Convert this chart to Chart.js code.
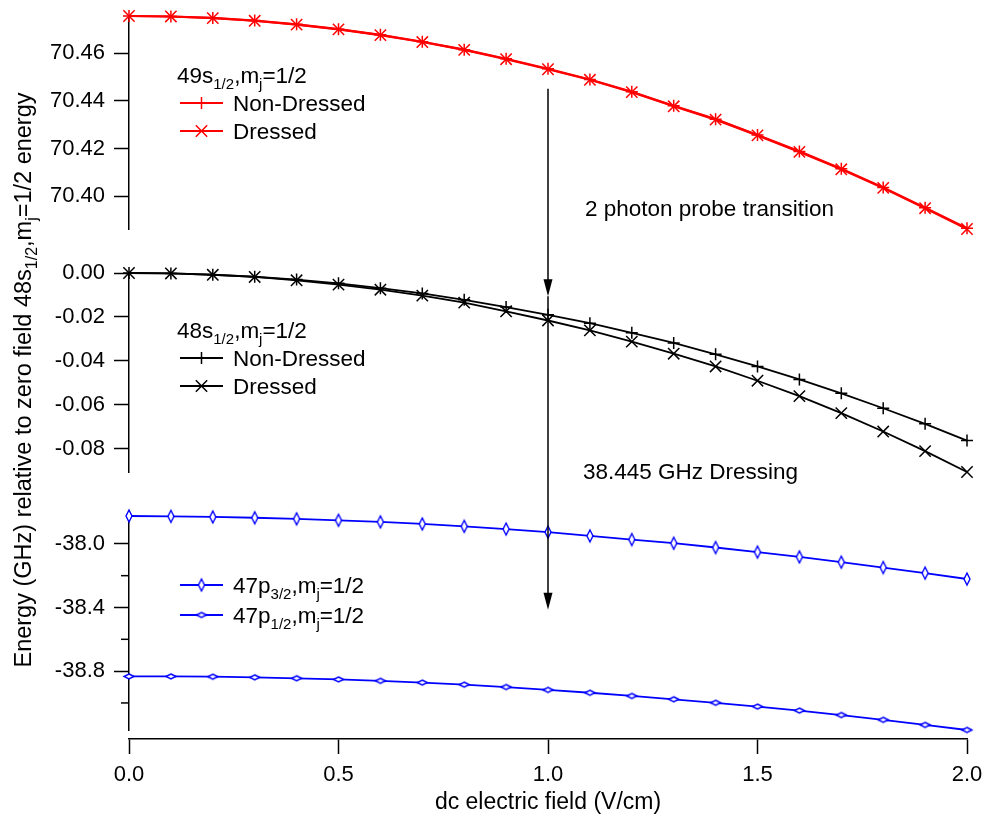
<!DOCTYPE html>
<html>
<head>
<meta charset="utf-8">
<script src="https://cdn.jsdelivr.net/npm/chart.js@4.4.0/dist/chart.umd.min.js"></script>
<style>
  html, body { margin: 0; padding: 0; background: #fff; }
</style>
</head>
<body>
<canvas id="chart" width="989" height="822"></canvas>
<script>
// dc field (V/cm)
const fields = [0.0, 0.1, 0.2, 0.3, 0.4, 0.5, 0.6, 0.7, 0.8, 0.9, 1.0,
                1.1, 1.2, 1.3, 1.4, 1.5, 1.6, 1.7, 1.8, 1.9, 2.0];

// 49s1/2, mj=1/2 (GHz)
const s49NonDressed = [70.4755, 70.4753, 70.4747, 70.4736, 70.4720, 70.4700, 70.4676, 70.4647, 70.4614, 70.4576, 70.4534,
                       70.4489, 70.4438, 70.4379, 70.4323, 70.4257, 70.4188, 70.4115, 70.4037, 70.3952, 70.3866];
const s49Dressed = [70.4755, 70.4753, 70.4746, 70.4735, 70.4719, 70.4699, 70.4675, 70.4646, 70.4613, 70.4574, 70.4532,
                    70.4488, 70.4436, 70.4377, 70.4321, 70.4255, 70.4186, 70.4113, 70.4035, 70.3950, 70.3863];

// 48s1/2, mj=1/2 (GHz)
const s48NonDressed = [0, -0.0002, -0.0008, -0.0017, -0.0030, -0.0047, -0.0069, -0.0093, -0.0122, -0.0155, -0.0190,
                       -0.0228, -0.0272, -0.0318, -0.0370, -0.0425, -0.0484, -0.0547, -0.0615, -0.0686, -0.0762];
const s48Dressed = [0, -0.0002, -0.0008, -0.0018, -0.0033, -0.0053, -0.0076, -0.0103, -0.0135, -0.0174, -0.0216,
                    -0.0261, -0.0312, -0.0367, -0.0425, -0.0490, -0.0560, -0.0637, -0.0721, -0.0810, -0.0905];

// 47p states (GHz)
const p32 = [-37.825, -37.827, -37.831, -37.836, -37.843, -37.852, -37.862, -37.875, -37.890, -37.907, -37.926,
             -37.950, -37.973, -37.996, -38.023, -38.052, -38.082, -38.115, -38.149, -38.184, -38.221];
const p12 = [-38.833, -38.833, -38.835, -38.839, -38.845, -38.852, -38.861, -38.872, -38.885, -38.900, -38.918,
             -38.936, -38.956, -38.977, -38.999, -39.023, -39.048, -39.076, -39.106, -39.138, -39.170];

// ticks
const xTicks = [0, 0.5, 1.0, 1.5, 2.0];
const topTicks = [70.40, 70.42, 70.44, 70.46];
const midTicks = [0, -0.02, -0.04, -0.06, -0.08];
const lowTicks = [-38.0, -38.4, -38.8];
const lowMinorTicks = [-38.2, -38.6, -39.0];

const RED = "#ff0000";
const BLUE = "#0000ff";
const FONT = "22.5px 'Liberation Sans', Arial, sans-serif";
const SUB = "15px 'Liberation Sans', Arial, sans-serif";
const TITLE_FONT = "23.5px 'Liberation Sans', Arial, sans-serif";
const TITLE_SUB = "16px 'Liberation Sans', Arial, sans-serif";

Chart.defaults.font.family = "'Liberation Sans', Arial, sans-serif";
Chart.defaults.font.size = 22;
Chart.defaults.color = "#000";

function pts(arr) {
    return arr.map(function (v, i) { return { x: fields[i], y: v }; });
}

// hollow diamond markers, tall for p3/2 and flat for p1/2
function diamond(w, h) {
    var c = document.createElement("canvas");
    c.width = w + 4;
    c.height = h + 4;
    var g = c.getContext("2d");
    g.beginPath();
    g.moveTo(c.width / 2, 2);
    g.lineTo(c.width - 2, c.height / 2);
    g.lineTo(c.width / 2, c.height - 2);
    g.lineTo(2, c.height / 2);
    g.closePath();
    g.fillStyle = "#fff";
    g.fill();
    g.strokeStyle = BLUE;
    g.lineWidth = 1.4;
    g.stroke();
    return c;
}
const tallDiamond = diamond(6, 12);
const flatDiamond = diamond(10, 5);

function yAxis(ticks, digits, weight, stackWeight) {
    return {
        type: "linear",
        position: "left",
        stack: "v",
        stackWeight: stackWeight,
        weight: weight,
        bounds: "data",
        grace: 0,
        border: { display: true, color: "#000", width: 1.5 },
        grid: { drawOnChartArea: false, drawTicks: true, tickLength: 15, tickWidth: 1.5, tickColor: "#000" },
        ticks: { padding: 9, autoSkip: false, callback: function (v) { return Number(v).toFixed(digits); } },
        afterBuildTicks: function (s) { s.ticks = ticks.map(function (v) { return { value: v }; }); },
        afterFit: function (s) { s.width = 129; s.paddingTop = 0; s.paddingBottom = 0; }
    };
}

function gap(weight, stackWeight) {
    return { type: "linear", display: false, position: "left", stack: "v", stackWeight: stackWeight, weight: weight, min: 0, max: 1 };
}

function drawRich(ctx, parts, x, y, font, sub) {
    var cx = x;
    parts.forEach(function (p) {
        ctx.font = p[1] ? (sub || SUB) : (font || FONT);
        ctx.fillText(p[0], cx, y + (p[1] ? 6 : 0));
        cx += ctx.measureText(p[0]).width;
    });
    return cx - x;
}
function richWidth(ctx, parts, font, sub) {
    var w = 0;
    parts.forEach(function (p) {
        ctx.font = p[1] ? (sub || SUB) : (font || FONT);
        w += ctx.measureText(p[0]).width;
    });
    return w;
}

function arrow(ctx, x, y0, y1) {
    ctx.beginPath();
    ctx.moveTo(x, y0);
    ctx.lineTo(x, y1 - 14);
    ctx.stroke();
    ctx.beginPath();
    ctx.moveTo(x, y1);
    ctx.lineTo(x - 4.5, y1 - 17);
    ctx.lineTo(x + 4.5, y1 - 17);
    ctx.closePath();
    ctx.fill();
}

const legends = [
    { head: [["49s"], ["1/2", 1], [",m"], ["j", 1], ["=1/2"]], headY: 83, rows: [
        { y: 103, color: RED, style: "cross", r: 6, label: [["Non-Dressed"]] },
        { y: 131, color: RED, style: "crossRot", r: 8, label: [["Dressed"]] }] },
    { head: [["48s"], ["1/2", 1], [",m"], ["j", 1], ["=1/2"]], headY: 338, rows: [
        { y: 358, color: "#000", style: "cross", r: 6, label: [["Non-Dressed"]] },
        { y: 386, color: "#000", style: "crossRot", r: 8, label: [["Dressed"]] }] },
    { head: null, rows: [
        { y: 585, color: BLUE, style: tallDiamond, r: 6, label: [["47p"], ["3/2", 1], [",m"], ["j", 1], ["=1/2"]] },
        { y: 615, color: BLUE, style: flatDiamond, r: 6, label: [["47p"], ["1/2", 1], [",m"], ["j", 1], ["=1/2"]] }] }
];

const overlay = {
    id: "overlay",
    afterDraw: function (chart) {
        var ctx = chart.ctx;
        var xs = chart.scales.x, yTop = chart.scales.yTop, yMid = chart.scales.yMid, yLow = chart.scales.yLow;
        ctx.save();
        ctx.strokeStyle = "#000";
        ctx.fillStyle = "#000";
        ctx.lineWidth = 1.5;

        // minor ticks on the lower axis
        lowMinorTicks.forEach(function (v) {
            var py = yLow.getPixelForValue(v);
            ctx.beginPath();
            ctx.moveTo(yLow.right - 8, py);
            ctx.lineTo(yLow.right, py);
            ctx.stroke();
        });

        // transition arrows at 1.0 V/cm
        var ax = xs.getPixelForValue(1.0);
        var tip1 = yMid.getPixelForValue(-0.0106);
        arrow(ctx, ax, yTop.getPixelForValue(70.445), tip1);
        arrow(ctx, ax, tip1, yLow.getPixelForValue(-38.414));

        ctx.textBaseline = "alphabetic";
        ctx.textAlign = "left";
        ctx.font = FONT;
        ctx.fillText("2 photon probe transition", 585, 216);
        ctx.fillText("38.445 GHz Dressing", 583, 479);

        // y axis title
        var title = [["Energy (GHz) relative to zero field 48s"], ["1/2", 1], [",m"], ["j", 1], ["=1/2 energy"]];
        ctx.save();
        ctx.translate(31, 380);
        ctx.rotate(-Math.PI / 2);
        drawRich(ctx, title, -richWidth(ctx, title, TITLE_FONT, TITLE_SUB) / 2, 0, TITLE_FONT, TITLE_SUB);
        ctx.restore();

        // legends
        legends.forEach(function (lg) {
            if (lg.head) drawRich(ctx, lg.head, 177, lg.headY);
            lg.rows.forEach(function (row) {
                ctx.strokeStyle = row.color;
                ctx.lineWidth = 1.8;
                ctx.beginPath();
                ctx.moveTo(180, row.y);
                ctx.lineTo(223, row.y);
                ctx.stroke();
                ctx.lineWidth = 1.5;
                Chart.helpers.drawPoint(ctx, { pointStyle: row.style, radius: row.r, rotation: 0, borderWidth: 1.5 }, 201.5, row.y);
                ctx.fillStyle = "#000";
                drawRich(ctx, row.label, 233, row.y + 8);
            });
        });
        ctx.restore();
    }
};

function series(label, data, axis, color, style, radius, width) {
    return {
        label: label,
        data: pts(data),
        yAxisID: axis,
        borderColor: color,
        backgroundColor: "#fff",
        borderWidth: width,
        pointStyle: style,
        pointRadius: radius,
        pointBorderWidth: 1.5,
        pointBorderColor: color,
        pointBackgroundColor: "#fff",
        tension: 0,
        clip: false
    };
}

new Chart(document.getElementById("chart"), {
    type: "line",
    data: {
        datasets: [
            series("49s Non-Dressed", s49NonDressed, "yTop", RED, "cross", 6, 2.2),
            series("49s Dressed", s49Dressed, "yTop", RED, "crossRot", 8, 2.2),
            series("48s Non-Dressed", s48NonDressed, "yMid", "#000", "cross", 6, 1.8),
            series("48s Dressed", s48Dressed, "yMid", "#000", "crossRot", 8, 1.8),
            series("47p3/2", p32, "yLow", BLUE, tallDiamond, 6, 1.8),
            series("47p1/2", p12, "yLow", BLUE, flatDiamond, 6, 1.8)
        ]
    },
    options: {
        responsive: false,
        animation: false,
        layout: { padding: { top: 16, right: 22, left: 0, bottom: 0 } },
        plugins: { legend: { display: false }, tooltip: { enabled: false } },
        scales: {
            x: {
                type: "linear",
                position: "bottom",
                min: 0,
                max: 2,
                border: { display: true, color: "#000", width: 1.5 },
                grid: { drawOnChartArea: false, drawTicks: true, tickLength: 15, tickWidth: 1.5, tickColor: "#000" },
                ticks: { padding: 8, maxRotation: 0, autoSkip: false, callback: function (v) { return Number(v).toFixed(1); } },
                afterBuildTicks: function (s) { s.ticks = xTicks.map(function (v) { return { value: v }; }); },
                afterFit: function (s) { s.height = 83; s.paddingLeft = 0; s.paddingRight = 0; },
                title: { display: true, text: "dc electric field (V/cm)", font: { size: 23 }, padding: { top: 0, bottom: 6 } }
            },
            yTop: yAxis(topTicks, 2, 6, 213),
            gap1: gap(5, 44),
            yMid: yAxis(midTicks, 2, 4, 199),
            gap2: gap(3, 44),
            yLow: yAxis(lowTicks, 1, 2, 214),
            gap3: gap(1, 9)
        }
    },
    plugins: [overlay]
});
</script>
</body>
</html>
